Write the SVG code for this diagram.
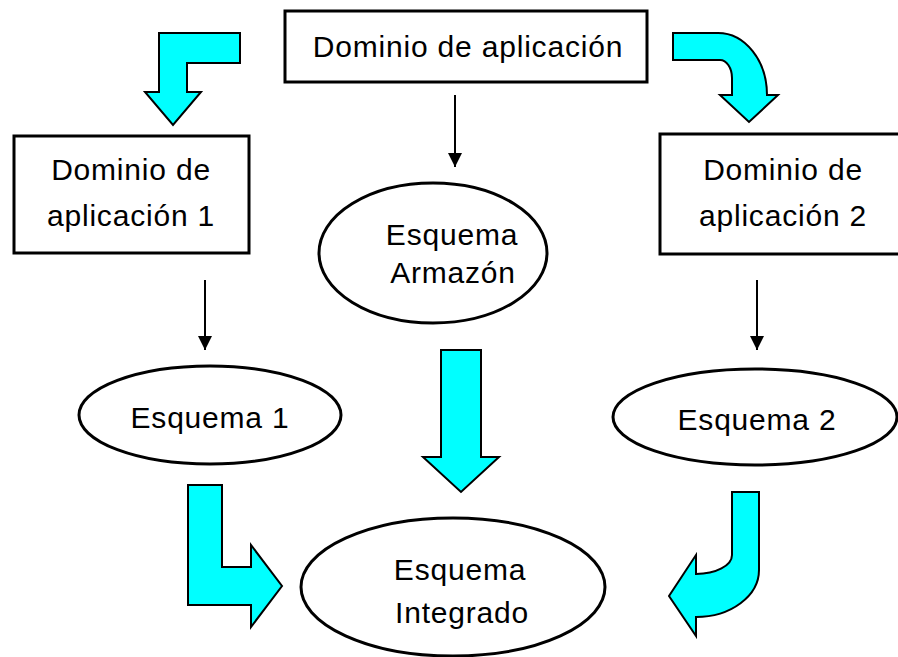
<svg xmlns="http://www.w3.org/2000/svg" width="898" height="657" viewBox="0 0 898 657">
<defs>
<style>
.box{fill:#fff;stroke:#000;stroke-width:3}
.ell{fill:#fff;stroke:#000;stroke-width:3}
.big{fill:#00ffff;stroke:#000;stroke-width:2;stroke-linejoin:miter}
.lbl{font-family:"Liberation Sans",Arial,sans-serif;font-size:30px;letter-spacing:0.8px;fill:#000;text-anchor:middle}
.conn{stroke:#000;stroke-width:2;fill:none}
</style>
<marker id="ah" viewBox="0 0 10 10" refX="10" refY="5" markerWidth="7.5" markerHeight="7" markerUnits="strokeWidth" orient="auto">
<path d="M0,0 L10,5 L0,10 Z" fill="#000"/>
</marker>
</defs>
<rect width="898" height="657" fill="#fff"/>
<g id="connectors">
<line class="conn" x1="455" y1="95" x2="455" y2="167" marker-end="url(#ah)"/>
<line class="conn" x1="205" y1="280" x2="205" y2="350" marker-end="url(#ah)"/>
<line class="conn" x1="757" y1="280" x2="757" y2="350" marker-end="url(#ah)"/>
<polygon class="big" points="240,33 159,33 159,92 145,92 173,125 201,92 187,92 187,63 240,63"/>
<path class="big" d="M673,33 L718,33 A49,62 0 0 1 767,95 L778,95 L749,122 L720,95 L732,95 L732,78 A12,18 0 0 0 720,60 L673,60 Z"/>
<polygon class="big" points="441,350 481,350 481,457 499,457 461,492 423,457 441,457"/>
<polygon class="big" points="188,485 222,485 222,567 251,567 251,545 282,586 251,627 251,605 188,605"/>
<path class="big" d="M732,492 L759,492 L759,570 A63,47 0 0 1 696,617 L696,636 L669,596 L696,555 L696,574 A36,19 0 0 0 732,555 Z"/>
</g>
<g id="n-dominio">
<rect class="box" x="285" y="11" width="362" height="71"/>
<text class="lbl" x="468" y="57">Dominio de aplicación</text>
</g>
<g id="n-dominio1">
<rect class="box" x="14" y="136" width="235" height="117"/>
<text class="lbl" x="131" y="180">Dominio de</text>
<text class="lbl" x="131" y="226">aplicación 1</text>
</g>
<g id="n-dominio2">
<rect class="box" x="660" y="134" width="247" height="120"/>
<text class="lbl" x="783" y="180">Dominio de</text>
<text class="lbl" x="783" y="226">aplicación 2</text>
</g>
<g id="n-armazon">
<ellipse class="ell" cx="433" cy="253" rx="114" ry="70"/>
<text class="lbl" x="452" y="245">Esquema</text>
<text class="lbl" x="453" y="283">Armazón</text>
</g>
<g id="n-esquema1">
<ellipse class="ell" cx="210" cy="415" rx="131" ry="49"/>
<text class="lbl" x="210" y="428">Esquema 1</text>
</g>
<g id="n-esquema2">
<ellipse class="ell" cx="755" cy="417" rx="142" ry="48"/>
<text class="lbl" x="757" y="430">Esquema 2</text>
</g>
<g id="n-integrado">
<ellipse class="ell" cx="453" cy="587" rx="152" ry="69"/>
<text class="lbl" x="460" y="580">Esquema</text>
<text class="lbl" x="462" y="623">Integrado</text>
</g>
</svg>
